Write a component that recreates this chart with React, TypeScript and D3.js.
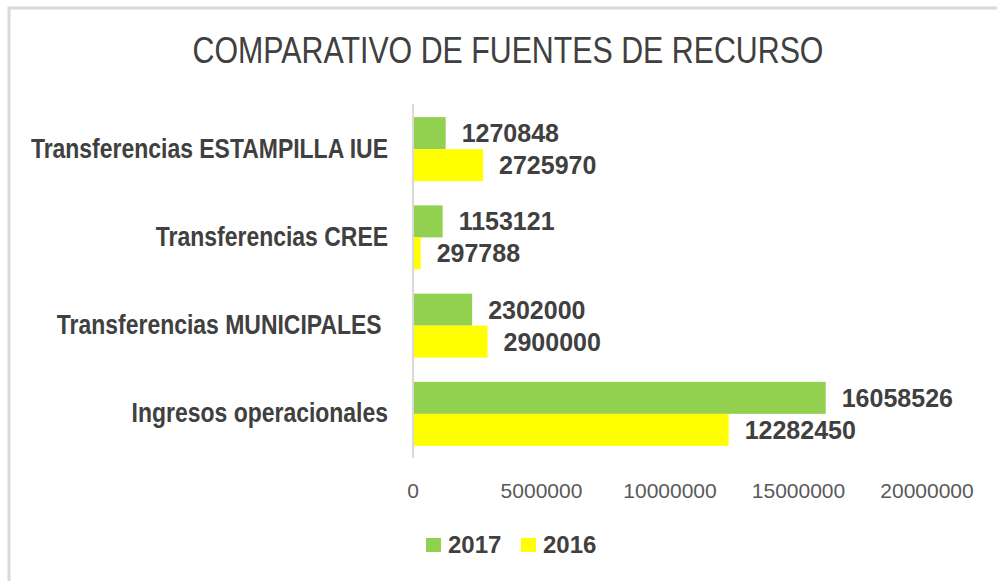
import React from "react";
import * as d3 from "d3";

const categories = [
  "Transferencias ESTAMPILLA IUE",
  "Transferencias CREE",
  "Transferencias MUNICIPALES ",
  "Ingresos operacionales",
];
const series = ["2017", "2016"];
const values2017 = [1270848, 1153121, 2302000, 16058526];
const values2016 = [2725970, 297788, 2900000, 12282450];
const tickValues = [0, 5000000, 10000000, 15000000, 20000000];
const colors = ["#92D050", "#FFFF00"];

const W = 997;
const H = 581;
const NARROW_SCALE = 0.82;
const SANS = "'Liberation Sans', Arial, sans-serif";

export default function App() {
  const x = d3.scaleLinear().domain([0, 20000000]).range([413, 927]);
  const y = d3
    .scaleBand<string>()
    .domain(categories)
    .range([105, 458])
    .paddingInner(0.275)
    .paddingOuter(0.1375);
  const inner = d3.scaleBand<string>().domain(series).range([0, y.bandwidth()]);
  const seriesValues = [values2017, values2016];

  return (
    <svg
      width={W}
      height={H}
      style={{ position: "absolute", left: 0, top: 0, display: "block", background: "#fff" }}
    >
      <rect x={9} y={8} width={1100} height={700} fill="#fff" stroke="#d9d9d9" strokeWidth={3} />
      <g transform={`translate(508,63) scale(${NARROW_SCALE},1)`}>
        <text
          x={0}
          y={0}
          textAnchor="middle"
          fontFamily={SANS}
          fontSize={37}
          fill="#404040"
        >
          COMPARATIVO DE FUENTES DE RECURSO
        </text>
      </g>

      {categories.map((c, i) => {
        const cy = (y(c) as number) + y.bandwidth() / 2;
        return (
          <g key={c}>
            <g transform={`translate(388,${cy + 8.5}) scale(${NARROW_SCALE},1)`}>
              <text
                x={0}
                y={0}
                textAnchor="end"
                fontFamily={SANS}
                fontWeight="bold"
                fontSize={28}
                fill="#404040"
                style={{ whiteSpace: "pre" }}
              >
                {c}
              </text>
            </g>
            {series.map((s, j) => {
              const v = seriesValues[j][i];
              const by = (y(c) as number) + (inner(s) as number);
              return (
                <g key={s}>
                  <rect
                    x={x(0) + 1}
                    y={by}
                    width={x(v) - x(0) - 1}
                    height={inner.bandwidth()}
                    fill={colors[j]}
                  />
                  <text
                    x={x(v) + 16}
                    y={by + inner.bandwidth() / 2 + 9}
                    fontFamily={SANS}
                    fontWeight="bold"
                    fontSize={25}
                    fill="#404040"
                  >
                    {v}
                  </text>
                </g>
              );
            })}
          </g>
        );
      })}

      <line x1={x(0)} x2={x(0)} y1={104} y2={458} stroke="#d9d9d9" strokeWidth={2} />

      {tickValues.map((t) => (
        <text
          key={t}
          x={x(t)}
          y={497.5}
          textAnchor="middle"
          fontFamily={SANS}
          fontSize={21}
          fill="#595959"
        >
          {t}
        </text>
      ))}

      {series.map((s, j) => {
        const lx = j === 0 ? 426 : 521;
        return (
          <g key={s}>
            <rect x={lx} y={538} width={15} height={14} fill={colors[j]} />
            <text
              x={lx + 22}
              y={553}
              fontFamily={SANS}
              fontWeight="bold"
              fontSize={24}
              fill="#404040"
            >
              {s}
            </text>
          </g>
        );
      })}
    </svg>
  );
}
